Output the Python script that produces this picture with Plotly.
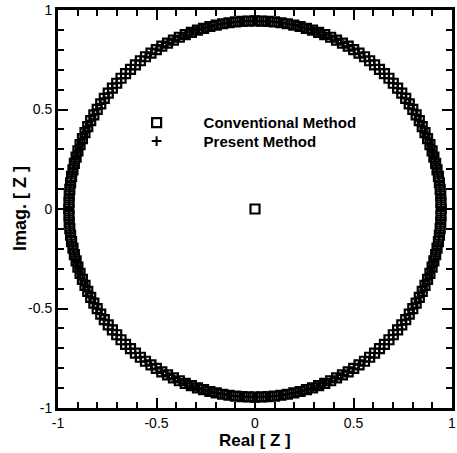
import plotly.graph_objects as go

# Eigenvalues on the ring (~2 degree spacing, |z| ~ 0.945)
ring_real = [
    0.945, 0.944, 0.943, 0.940, 0.936, 0.931, 0.924, 0.917, 0.908, 0.899, 0.888, 0.876,
    0.863, 0.849, 0.834, 0.818, 0.801, 0.783, 0.765, 0.745, 0.724, 0.702, 0.680, 0.657,
    0.632, 0.607, 0.582, 0.556, 0.528, 0.501, 0.473, 0.444, 0.414, 0.384, 0.354, 0.323,
    0.292, 0.261, 0.229, 0.197, 0.164, 0.132, 0.099, 0.066, 0.033, 0.000,
    -0.033, -0.066, -0.099, -0.132, -0.164, -0.197, -0.229, -0.261, -0.292, -0.323,
    -0.354, -0.384, -0.414, -0.444, -0.473, -0.501, -0.528, -0.556, -0.582, -0.607,
    -0.632, -0.657, -0.680, -0.702, -0.724, -0.745, -0.765, -0.783, -0.801, -0.818,
    -0.834, -0.849, -0.863, -0.876, -0.888, -0.899, -0.908, -0.917, -0.924, -0.931,
    -0.936, -0.940, -0.943, -0.944, -0.945,
    -0.944, -0.943, -0.940, -0.936, -0.931, -0.924, -0.917, -0.908, -0.899, -0.888,
    -0.876, -0.863, -0.849, -0.834, -0.818, -0.801, -0.783, -0.765, -0.745, -0.724,
    -0.702, -0.680, -0.657, -0.632, -0.607, -0.582, -0.556, -0.528, -0.501, -0.473,
    -0.444, -0.414, -0.384, -0.354, -0.323, -0.292, -0.261, -0.229, -0.197, -0.164,
    -0.132, -0.099, -0.066, -0.033, 0.000,
    0.033, 0.066, 0.099, 0.132, 0.164, 0.197, 0.229, 0.261, 0.292, 0.323, 0.354,
    0.384, 0.414, 0.444, 0.473, 0.501, 0.528, 0.556, 0.582, 0.607, 0.632, 0.657,
    0.680, 0.702, 0.724, 0.745, 0.765, 0.783, 0.801, 0.818, 0.834, 0.849, 0.863,
    0.876, 0.888, 0.899, 0.908, 0.917, 0.924, 0.931, 0.936, 0.940, 0.943, 0.944,
]
ring_imag = [
    0.000, 0.033, 0.066, 0.099, 0.132, 0.164, 0.197, 0.229, 0.261, 0.292, 0.323, 0.354,
    0.384, 0.414, 0.444, 0.473, 0.501, 0.528, 0.556, 0.582, 0.607, 0.632, 0.657, 0.680,
    0.702, 0.724, 0.745, 0.765, 0.783, 0.801, 0.818, 0.834, 0.849, 0.863, 0.876, 0.888,
    0.899, 0.908, 0.917, 0.924, 0.931, 0.936, 0.940, 0.943, 0.944, 0.945,
    0.944, 0.943, 0.940, 0.936, 0.931, 0.924, 0.917, 0.908, 0.899, 0.888, 0.876, 0.863,
    0.849, 0.834, 0.818, 0.801, 0.783, 0.765, 0.745, 0.724, 0.702, 0.680, 0.657, 0.632,
    0.607, 0.582, 0.556, 0.528, 0.501, 0.473, 0.444, 0.414, 0.384, 0.354, 0.323, 0.292,
    0.261, 0.229, 0.197, 0.164, 0.132, 0.099, 0.066, 0.033, 0.000,
    -0.033, -0.066, -0.099, -0.132, -0.164, -0.197, -0.229, -0.261, -0.292, -0.323,
    -0.354, -0.384, -0.414, -0.444, -0.473, -0.501, -0.528, -0.556, -0.582, -0.607,
    -0.632, -0.657, -0.680, -0.702, -0.724, -0.745, -0.765, -0.783, -0.801, -0.818,
    -0.834, -0.849, -0.863, -0.876, -0.888, -0.899, -0.908, -0.917, -0.924, -0.931,
    -0.936, -0.940, -0.943, -0.944, -0.945,
    -0.944, -0.943, -0.940, -0.936, -0.931, -0.924, -0.917, -0.908, -0.899, -0.888,
    -0.876, -0.863, -0.849, -0.834, -0.818, -0.801, -0.783, -0.765, -0.745, -0.724,
    -0.702, -0.680, -0.657, -0.632, -0.607, -0.582, -0.556, -0.528, -0.501, -0.473,
    -0.444, -0.414, -0.384, -0.354, -0.323, -0.292, -0.261, -0.229, -0.197, -0.164,
    -0.132, -0.099, -0.066, -0.033,
]

# Conventional method: ring eigenvalues plus one extra eigenvalue at the origin
conv_real = ring_real + [0.0]
conv_imag = ring_imag + [0.0]
# Present method: ring eigenvalues only
pres_real = list(ring_real)
pres_imag = list(ring_imag)

x_ticks = [-1, -0.5, 0, 0.5, 1]
x_tick_text = ["-1", "-0.5", "0", "0.5", "1"]
y_ticks = [-1, -0.5, 0, 0.5, 1]
y_tick_text = ["-1", "-0.5", "0", "0.5", "1"]

FONT = "Liberation Sans, Arial, sans-serif"

fig = go.Figure()
fig.add_trace(go.Scatter(
    x=conv_real, y=conv_imag, mode="markers", name="Conventional Method",
    legend="legend",
    marker=dict(symbol="square-open", size=9, color="black", line=dict(width=2.2, color="black")),
))
fig.add_trace(go.Scatter(
    x=pres_real, y=pres_imag, mode="markers", name="Present Method",
    legend="legend2",
    marker=dict(symbol="cross-thin-open", size=7, color="black", line=dict(width=2, color="black")),
))

axis_style = dict(
    range=[-1, 1], showgrid=False, zeroline=False,
    showline=True, linewidth=3, linecolor="black", mirror="ticks",
    ticks="inside", ticklen=10, tickwidth=2, tickcolor="black",
    tickfont=dict(family=FONT, size=14, color="black"),
    minor=dict(ticks="inside", ticklen=6, tickwidth=1.5, tickcolor="black", dtick=0.1),
)
fig.update_xaxes(**axis_style, tickvals=x_ticks, ticktext=x_tick_text)
fig.update_yaxes(**axis_style, tickvals=y_ticks, ticktext=y_tick_text)

legend_font = dict(family=FONT, size=15, color="black", weight="bold")

fig.update_layout(
    width=457, height=453,
    margin=dict(l=58, r=2, t=10, b=45),
    plot_bgcolor="white", paper_bgcolor="white",
    showlegend=True,
    legend=dict(x=0.131, y=0.758, xanchor="left", yanchor="top",
                bgcolor="rgba(0,0,0,0)", borderwidth=0, itemwidth=84, font=legend_font),
    legend2=dict(x=0.131, y=0.7115, xanchor="left", yanchor="top",
                 bgcolor="rgba(0,0,0,0)", borderwidth=0, itemwidth=84, font=legend_font),
    annotations=[
        dict(text="<b>Real [ Z ]</b>", xref="paper", yref="paper", x=0.5, y=0,
             xanchor="center", yanchor="middle", yshift=-32, showarrow=False,
             font=dict(family=FONT, size=17, color="black")),
        dict(text="<b>Imag. [ Z ]</b>", xref="paper", yref="paper", x=0, y=0.5,
             xanchor="center", yanchor="middle", xshift=-38, textangle=-90, showarrow=False,
             font=dict(family=FONT, size=18, color="black")),
    ],
)

fig.write_html("out.html")
